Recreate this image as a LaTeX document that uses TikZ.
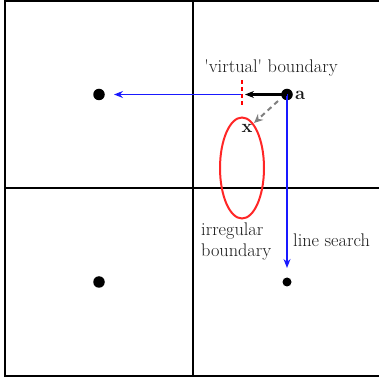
\documentclass[tikz,border=0pt]{standalone}
\usetikzlibrary{arrows.meta}
\begin{document}
\begin{tikzpicture}[x=1pt,y=1pt,
  grid/.style={line width=1.2pt,black},
  pt/.style={circle,fill=black,inner sep=0pt,minimum size=#1},
  searcharrow/.style={draw=blue!90,line width=1.3pt,-{Stealth[length=9pt,width=7pt,inset=3pt]}},
  lbl/.style={font=\fontsize{18.3}{21}\selectfont,text=black!90,inner sep=0pt}]
\useasboundingbox (0,0) rectangle (379,380);
% grid
\draw[grid] (5,4) rectangle (381,379);
\draw[grid] (193,4) -- (193,379);
\draw[grid] (5,192) -- (381,192);
% points
\node[pt=11.5pt] (tl) at (99,285.5) {};
\node[pt=11.5pt] (a) at (287,285.5) {};
\node[pt=11.5pt] (bl) at (99,98) {};
\node[pt=9pt] (br) at (287,98) {};
\coordinate (ac) at (287,285.5);
\coordinate (vb) at (242,285.5);
\coordinate (tlend) at (114,285.5);
\coordinate (brend) at (287,112);
\coordinate (vbtop) at (242,300);
\coordinate (vbbot) at (242,273);
\coordinate (xpt) at (254,257);
\coordinate (gstart) at (278,279);
% labels
\node[lbl,anchor=west,font=\fontsize{18.3}{21}\selectfont\bfseries] (alab) at (295,285) {a};
\node[lbl,font=\fontsize{18.3}{21}\selectfont\bfseries] (xlab) at (247,252) {x};
\node[lbl] (vlab) at (271,312) {\textquotesingle virtual\textquotesingle{} boundary};
\node[lbl,anchor=north west,align=left] (ilab) at (201,157) {irregular\\boundary};
\node[lbl,anchor=west] (llab) at (293,140) {line search};
% ellipse
\draw[red!85,line width=2pt] (242,212) ellipse (22pt and 50.5pt);
% arrows
\draw[searcharrow] (vb) -- (tlend);
\draw[searcharrow] (ac) -- (brend);
\draw[line width=2.2pt,-{Stealth[length=9pt,width=7pt,inset=3pt]}] (ac) -- (245,285.5);
\draw[red,line width=2pt,dash pattern=on 4pt off 3pt] (vbtop) -- (vbbot);
\draw[gray,line width=2pt,dash pattern=on 5pt off 4pt,-{Stealth[length=9pt,width=8pt,inset=3pt]}] (gstart) -- (xpt);
\end{tikzpicture}
\end{document}
